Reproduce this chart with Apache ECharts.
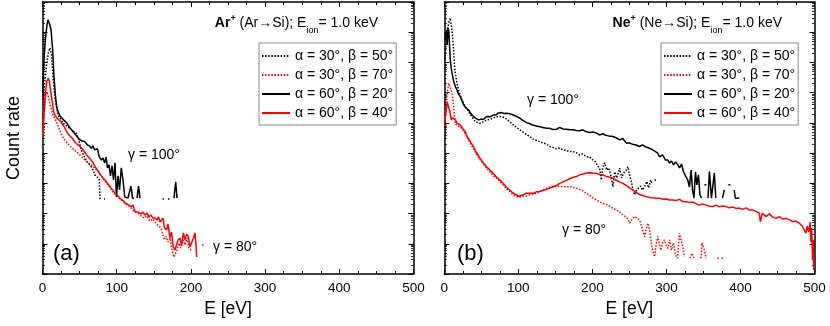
<!DOCTYPE html>
<html><head><meta charset="utf-8">
<script src="https://cdn.jsdelivr.net/npm/echarts@6/dist/echarts.min.js"></script>
<style>html,body{margin:0;padding:0;background:#fff}#c{width:830px;height:326px}</style>
</head><body><div id="c"></div>
<script>
// Legend / series names
const seriesNames = ['α = 30°, β = 50°', 'α = 30°, β = 70°', 'α = 60°, β = 20°', 'α = 60°, β = 40°'];
const xTicks = [0, 100, 200, 300, 400, 500];

// Values are [E (eV), log10(count rate)]; null = no counts (gap)
// ---- Panel (a): Ar+ (Ar->Si) ----
const arA30B50 = [[0.7,5.76],[3.0,6.32],[5.4,6.92],[8.1,7.35],[10.1,7.48],[12.1,7.25],[14.2,6.53],[15.8,6.09],[17.3,5.76],[19.1,5.50],[20.9,5.26],[24.3,5.13],[27.6,4.99],[32.3,4.90],[36.7,4.82],[39.8,4.76],[43.4,4.70],[46.5,4.62],[49.2,4.40],[52.3,4.10],[55.9,3.91],[58.6,3.77],[61.3,3.67],[64.0,3.61],[68.1,3.44],[70.5,3.28],[72.5,3.22],[74.8,3.18],[76.5,3.11],[77.5,2.48],[79.5,2.48],[81,null],[82.9,2.48],[84.2,2.48],[120,null],[161.7,2.48],[165.1,2.48],[167,null],[169.1,2.48],[171.8,2.48]];
const arA30B70 = [[0.4,4.54],[2.7,5.43],[4.0,5.83],[5.4,6.03],[6.7,6.03],[8.1,5.86],[10.1,5.60],[12.1,5.43],[14.2,5.26],[16.8,5.20],[18.9,5.03],[21.3,4.88],[23.6,4.74],[25.9,4.60],[29.0,4.47],[33.0,4.34],[37.1,4.24],[41.1,4.14],[45.1,4.06],[49.2,3.97],[53.2,3.87],[57.3,3.77],[61.3,3.69],[65.4,3.61],[69.4,3.53],[73.5,3.44],[77.5,3.30],[81.5,3.17],[85.6,3.04],[88.3,2.95],[92.3,2.81],[96.4,2.68],[100.4,2.58],[104.4,2.48],[108.5,2.42],[112.5,2.32],[116.6,2.25],[120.6,2.15],[124.7,2.05],[128.7,2.02],[132.7,1.92],[136.8,1.85],[140.8,1.92],[144.9,1.75],[148.9,1.82],[153.0,1.66],[157.0,1.59],[159.7,1.52],[162.4,1.29],[164.4,1.13],[166.4,1.26],[169.1,1.06],[171.8,1.19],[174.5,0.79],[177.2,0.56],[179.2,0.56],[181.3,0.79],[183.4,1.02],[186.2,0.86],[189.4,1.13],[192.0,0.96],[194.7,1.19],[197.4,0.86],[200.1,0.79],[207,null],[215,0.96],[217.7,0.96]];
const arA60B20 = [[0.5,6.0],[2.0,7.09],[3.8,7.75],[6.1,8.25],[7.4,8.41],[9.4,8.28],[11.5,8.08],[13.7,7.42],[15.5,6.52],[17.3,5.93],[19.1,5.53],[21.6,5.33],[24.5,5.20],[28.3,5.10],[32.6,5.00],[37.1,4.83],[41.5,4.70],[45.8,4.57],[50.5,4.44],[53.9,4.40],[56.9,4.38],[60.6,4.27],[63.3,4.24],[65.8,4.16],[68.1,4.24],[70.1,4.11],[72.5,4.05],[74.1,4.14],[76.1,3.91],[79.2,3.77],[81.5,3.84],[83.8,3.67],[85.6,3.87],[87.6,3.51],[89.6,3.61],[91.6,3.25],[93.7,3.58],[95.7,3.11],[97.7,3.68],[99.7,2.55],[101.8,3.25],[103.8,2.78],[106.2,3.51],[108.5,3.11],[110.8,2.55],[113.2,2.51],[115.2,2.51],[117.3,2.51],[119.3,2.91],[121.3,2.51],[123.3,2.51],[125.5,null],[127.4,2.51],[129.4,2.91],[131.4,2.51],[150,null],[177.2,2.51],[179.5,3.05],[181.3,2.51]];
const arA60B40 = [[0.3,4.55],[3.4,5.86],[5.7,6.37],[7.8,6.48],[9.4,6.36],[10.8,6.09],[12.1,5.86],[13.5,5.66],[14.6,5.43],[15.9,5.30],[16.8,5.26],[20.2,5.13],[23.6,5.07],[25.9,5.04],[29.0,4.88],[32.6,4.71],[35.7,4.60],[39.8,4.50],[43.8,4.37],[47.8,4.27],[50.5,4.22],[54.6,4.11],[58.6,3.97],[61.7,3.88],[65.4,3.77],[68.1,3.68],[70.8,3.55],[74.8,3.41],[77.5,3.31],[81.5,3.18],[84.2,3.11],[88.3,2.98],[92.3,2.85],[95.7,2.75],[97.7,2.67],[101.8,2.58],[105.8,2.48],[109.2,2.42],[111.2,2.35],[115.2,2.30],[119.3,2.22],[122.0,2.28],[124.7,2.06],[128.7,2.05],[132.7,1.99],[135.4,2.05],[138.1,1.95],[140.8,2.02],[143.5,1.89],[146.2,1.95],[148.9,1.85],[151.6,1.85],[154.4,1.79],[156.3,1.89],[158.4,1.72],[160.6,1.69],[162.4,1.85],[164.4,1.52],[167.4,1.46],[169.1,1.66],[171.8,1.19],[173.9,1.39],[176.2,0.90],[178.6,0.79],[180.9,0.79],[182.6,1.13],[185.3,1.19],[187.3,0.93],[189.8,1.36],[192.0,1.13],[194.1,1.32],[196.5,1.24],[198.8,0.90],[201.1,0.90],[203.5,1.19],[205.5,1.36],[206.9,0.96],[207.8,0.56]];

// ---- Panel (b): Ne+ (Ne->Si) ----
const neA30B50 = [[0.7,7.09],[2.3,7.58],[4.3,8.08],[5.9,8.30],[8.1,8.47],[9.3,8.25],[10.4,8.08],[11.7,7.68],[12.7,7.32],[13.7,6.92],[14.8,6.66],[17.1,6.32],[19.8,6.03],[23.9,5.76],[27.9,5.56],[32.9,5.37],[37.3,5.20],[41.8,5.04],[45.4,5.00],[48.5,4.99],[52.6,5.04],[57.5,5.10],[61.6,5.12],[66.0,5.16],[70.4,5.20],[73.7,5.21],[77.4,5.21],[81.8,5.17],[85.2,5.10],[88.5,5.04],[92.6,4.95],[97.3,4.85],[102.0,4.77],[106.1,4.70],[110.8,4.62],[115.5,4.55],[119.5,4.47],[124.3,4.42],[129.0,4.38],[133.0,4.34],[137.7,4.30],[142.5,4.22],[146.5,4.19],[151.5,4.14],[155.9,4.16],[160.0,4.11],[164.7,4.09],[169.4,4.05],[173.9,4.05],[178.4,4.01],[182.9,3.94],[186.9,3.97],[191.9,3.88],[196.4,3.87],[200.8,3.77],[204.4,3.71],[207.1,3.58],[209.8,3.50],[212.1,3.11],[213.9,3.51],[216.6,3.68],[219.3,3.44],[222.0,3.51],[224.7,3.28],[227.8,2.89],[230.1,3.38],[232.8,3.18],[236.8,3.50],[239.5,3.18],[242.2,3.34],[245.8,3.44],[248.0,3.55],[250.3,3.28],[252.6,3.06],[255.0,2.78],[257.0,2.62],[259.7,2.78],[262.4,2.72],[265.1,2.91],[267.8,2.78],[270.5,2.89],[273.6,3.06],[275.9,2.85],[278.6,3.11],[281.3,2.98],[282.7,null],[284.0,3.11],[286.0,3.11]];
const neA30B70 = [[0.5,4.93],[2.3,5.43],[3.6,5.93],[5.0,6.16],[5.9,6.31],[7.0,6.26],[8.1,6.16],[9.4,6.09],[11.1,5.86],[12.7,5.54],[13.7,5.23],[14.8,4.99],[17.1,4.90],[19.4,4.88],[21.2,4.88],[23.9,4.82],[26.5,4.72],[29.2,4.60],[31.9,4.47],[34.6,4.35],[39.1,4.16],[43.4,3.97],[48.1,3.79],[52.6,3.64],[57.1,3.50],[61.6,3.38],[66.0,3.26],[70.4,3.16],[75.1,3.06],[79.5,2.95],[83.8,2.83],[88.5,2.73],[92.6,2.63],[97.6,2.56],[102.0,2.55],[106.5,2.57],[110.8,2.58],[115.5,2.62],[119.9,2.65],[124.5,2.67],[129.0,2.73],[133.4,2.78],[138.0,2.84],[142.5,2.88],[146.9,2.90],[151.5,2.91],[155.9,2.90],[160.4,2.89],[165.0,2.89],[169.4,2.89],[173.9,2.87],[178.4,2.84],[182.9,2.80],[187.3,2.75],[191.9,2.67],[196.4,2.60],[200.8,2.52],[205.4,2.45],[209.8,2.39],[214.3,2.33],[218.9,2.30],[223.3,2.24],[227.8,2.18],[232.3,2.12],[236.8,2.05],[241.2,1.95],[244.9,1.89],[247.6,1.82],[250.3,1.68],[253.0,1.79],[257.0,1.90],[260.4,1.85],[263.7,1.79],[266.4,1.59],[270.5,1.24],[272.5,1.46],[274.9,1.68],[277.2,1.46],[279.5,1.02],[281.3,0.79],[284.0,0.57],[286.0,0.96],[288.4,1.24],[290.7,0.96],[292.7,0.79],[294.7,1.03],[297.4,1.13],[299.5,0.96],[301.9,0.85],[304.2,1.13],[306.9,0.79],[309.6,1.03],[312.3,0.63],[315.0,0.52],[317.7,1.35],[319.7,1.13],[322.1,0.90],[324.4,0.57],[328,null],[331.8,0.52],[334.5,0.69],[337.2,0.52],[342,null],[346.6,0.52],[348.0,1.03],[349.3,1.07],[351.3,0.79],[353.6,0.52],[360,null],[368.9,0.52],[371.6,0.52],[373,null],[374.3,0.52],[377.0,0.52]];
const neA60B20 = [[0.9,7.75],[3.0,8.08],[3.9,7.58],[5.0,8.15],[5.9,8.08],[7.0,7.58],[8.1,7.09],[9.3,6.82],[10.4,6.66],[11.7,6.49],[12.7,6.37],[15.1,6.19],[17.1,6.09],[19.1,5.96],[21.6,5.87],[23.9,5.73],[26.1,5.60],[29.2,5.49],[32.9,5.43],[36.0,5.30],[39.6,5.21],[42.7,5.15],[46.4,5.10],[49.5,5.12],[53.1,5.12],[57.1,5.21],[61.6,5.20],[66.0,5.26],[69.7,5.26],[73.0,5.33],[77.4,5.34],[80.5,5.31],[84.1,5.32],[88.5,5.30],[93.0,5.26],[97.3,5.22],[102.0,5.16],[106.1,5.08],[111.1,5.01],[115.5,4.97],[119.5,4.93],[124.5,4.90],[129.0,4.87],[133.0,4.85],[138.0,4.82],[142.5,4.82],[146.5,4.78],[151.5,4.79],[155.9,4.85],[160.0,4.80],[165.0,4.79],[169.4,4.77],[173.9,4.77],[178.4,4.75],[182.9,4.74],[186.9,4.77],[191.9,4.71],[196.4,4.68],[200.4,4.70],[205.1,4.67],[209.8,4.60],[213.9,4.64],[217.9,4.59],[221.9,4.57],[227.8,4.55],[232.7,4.50],[236.8,4.44],[240.8,4.49],[245.8,4.33],[250.3,4.34],[254.3,4.29],[259.0,4.27],[263.7,4.22],[267.8,4.27],[271.8,4.21],[277.2,4.16],[281.3,4.11],[284.0,4.05],[288.0,4.01],[290.7,3.88],[294.7,3.94],[298.8,3.77],[301.9,3.77],[304.2,3.67],[306.9,3.74],[309.6,3.61],[312.3,3.71],[315.4,3.61],[317.7,3.51],[320.4,3.64],[323.1,3.38],[325.8,3.25],[328.8,3.11],[331.1,2.88],[333.4,3.44],[335.2,2.78],[337.2,2.51],[339.2,3.38],[341.2,2.95],[343.2,3.28],[345.3,2.62],[347.3,2.51],[349,null],[351.3,2.95],[354.0,2.95],[355,null],[356.1,2.51],[358.1,3.39],[360.8,2.51],[362.8,2.51],[364.7,3.34],[366.7,2.51],[370,null],[375.6,2.51],[378.3,2.78],[380,null],[383.7,2.95],[386.4,2.95],[389,null],[391.6,2.78],[393.0,2.51],[398.4,2.51]];
const neA60B40 = [[0.3,5.03],[1.6,5.26],[3.0,5.50],[4.0,5.70],[5.0,5.76],[6.1,5.66],[6.7,5.43],[7.7,5.36],[9.4,5.10],[11.1,5.17],[12.7,5.21],[15.1,5.10],[17.1,4.99],[19.1,4.97],[21.6,4.93],[23.9,4.85],[26.1,4.77],[28.6,4.70],[30.6,4.55],[34.6,4.40],[39.1,4.22],[43.4,4.02],[48.1,3.83],[52.6,3.68],[57.1,3.55],[61.6,3.44],[66.0,3.33],[70.4,3.21],[75.1,3.11],[79.5,3.00],[83.8,2.88],[88.5,2.78],[92.6,2.68],[97.6,2.62],[100.7,2.57],[103.4,2.63],[106.5,2.62],[110.1,2.67],[112.8,2.62],[115.5,2.67],[118.2,2.72],[120.9,2.67],[124.3,2.72],[129.0,2.73],[133.0,2.76],[137.7,2.80],[142.5,2.84],[146.5,2.88],[151.5,2.93],[155.9,3.00],[160.4,3.05],[165.0,3.10],[169.4,3.15],[174.1,3.20],[178.8,3.23],[182.9,3.28],[187.6,3.31],[192.3,3.34],[196.4,3.35],[200.4,3.34],[205.4,3.33],[209.8,3.29],[214.3,3.28],[218.6,3.23],[223.3,3.20],[227.8,3.17],[232.1,3.10],[236.8,3.05],[241.2,3.00],[245.6,2.93],[250.3,2.85],[254.7,2.78],[259.0,2.70],[263.7,2.63],[267.8,2.60],[272.8,2.56],[277.2,2.53],[281.3,2.52],[286.0,2.51],[290.7,2.51],[294.7,2.47],[299.5,2.48],[304.2,2.45],[308.6,2.45],[312.9,2.43],[317.7,2.47],[321.7,2.40],[326.7,2.39],[331.1,2.37],[335.2,2.38],[339.9,2.33],[344.5,2.28],[348.7,2.32],[353.4,2.28],[358.1,2.24],[362.5,2.23],[366.8,2.28],[371.6,2.22],[375.6,2.25],[380.6,2.23],[385.0,2.19],[389.5,2.22],[393.8,2.17],[398.5,2.18],[402.6,2.14],[407.3,2.19],[412.0,2.12],[416.4,2.12],[420.8,2.07],[425.5,2.01],[426.8,1.73],[429.5,2.01],[434.5,1.90],[439.0,1.99],[443.0,1.89],[448.0,1.84],[452.4,1.90],[456.5,1.82],[461.5,1.84],[465.9,1.80],[470.4,1.73],[474.7,1.75],[479.4,1.68],[483.4,1.59],[486.1,1.46],[488.4,1.35],[490.2,1.59],[492.2,1.39],[494.2,1.72],[495.1,1.07],[496.2,1.52],[497.3,0.46],[498.2,1.13],[499.0,0.13]];

const FONT = '"Liberation Sans", Arial, Helvetica, sans-serif';
const BLACK = '#000000', RED = '#ff0000';
const DOT = [1.5, 1.6];

function toData(pairs) { return pairs.map(p => [p[0], p[1] == null ? '-' : Math.pow(10, p[1])]); }

function xAx(grid, pos) {
  return {
    type: 'value', gridIndex: grid, position: pos, min: xTicks[0], max: xTicks[xTicks.length - 1], interval: 100,
    axisLine: { show: true, onZero: false, lineStyle: { color: BLACK, width: 1.5 } },
    axisTick: { show: true, inside: true, length: 5, lineStyle: { color: BLACK, width: 1 } },
    minorTick: { show: true, splitNumber: 4, length: 3, lineStyle: { color: BLACK, width: 1 } },
    axisLabel: { show: pos === 'bottom', color: BLACK, fontSize: 13.5, fontFamily: FONT, margin: 7 },
    splitLine: { show: false }, minorSplitLine: { show: false },
    name: pos === 'bottom' ? 'E [eV]' : '', nameLocation: 'middle', nameGap: 22,
    nameTextStyle: { color: BLACK, fontSize: 17.5, fontFamily: FONT }
  };
}
function yAx(grid, pos, name) {
  return {
    type: 'log', logBase: 10, gridIndex: grid, position: pos, min: 1, max: 1e9,
    axisLine: { show: true, onZero: false, lineStyle: { color: BLACK, width: 1.5 } },
    axisTick: { show: true, inside: true, length: 5, lineStyle: { color: BLACK, width: 1 } },
    minorTick: { show: true, splitNumber: 9, length: 2.5, lineStyle: { color: BLACK, width: 0.8 } },
    axisLabel: { show: false }, splitLine: { show: false }, minorSplitLine: { show: false },
    name: name || '', nameLocation: 'middle', nameGap: 19,
    nameTextStyle: { color: BLACK, fontSize: 18, fontFamily: FONT }
  };
}
function ser(name, pairs, panel, color, dotted) {
  return {
    name, type: 'line', xAxisIndex: panel * 2, yAxisIndex: panel * 2, data: toData(pairs),
    symbol: 'none', showSymbol: false, connectNulls: false, animation: false,
    lineStyle: { color, width: 1.5, type: dotted ? DOT : 'solid' }, itemStyle: { color },
    emphasis: { disabled: true }
  };
}
function legendFor(left) {
  return {
    data: seriesNames, orient: 'vertical', left, top: 43, itemWidth: 28, itemHeight: 12, itemGap: 5,
    padding: [6, 3, 5, 2], borderColor: '#888', borderWidth: 1, selectedMode: false, backgroundColor: '#fff',
    itemStyle: { opacity: 0, borderWidth: 0 },
    textStyle: { color: BLACK, fontSize: 14, lineHeight: 13, fontFamily: FONT }
  };
}
function txt(x, y, text, size, align, rich) {
  const st = { text, x: 0, y: 0, fill: BLACK, fontSize: size, fontFamily: FONT, align: align || 'left', verticalAlign: 'middle', textAlign: align || 'left', textVerticalAlign: 'middle' };
  if (rich) st.rich = rich;
  return { type: 'text', x, y, z: 100, style: st };
}
const titleRich = {
  b: { fontSize: 14, fontWeight: 'bold', fontFamily: FONT, lineHeight: 18, verticalAlign: 'middle' },
  sup: { fontSize: 9, fontWeight: 'bold', fontFamily: FONT, lineHeight: 18, verticalAlign: 'top' },
  n: { fontSize: 14, fontFamily: FONT, lineHeight: 18, verticalAlign: 'middle' },
  sub: { fontSize: 9, fontFamily: FONT, lineHeight: 18, verticalAlign: 'bottom', padding: [0, 0, -3, 0] }
};

const chart = echarts.init(document.getElementById('c'), null, { renderer: 'canvas' });
chart.setOption({
  animation: false,
  backgroundColor: '#ffffff',
  grid: [
    { left: 42.5, right: 416.5, top: 2, bottom: 52, containLabel: false, outerBoundsMode: 'none' },
    { left: 444.3, right: 15.5, top: 2, bottom: 52, containLabel: false, outerBoundsMode: 'none' }
  ],
  xAxis: [xAx(0, 'bottom'), xAx(0, 'top'), xAx(1, 'bottom'), xAx(1, 'top')],
  yAxis: [yAx(0, 'left', 'Count rate'), yAx(0, 'right'), yAx(1, 'left'), yAx(1, 'right')],
  legend: [legendFor(259), legendFor(661)],
  series: [
    ser(seriesNames[0], arA30B50, 0, BLACK, true),
    ser(seriesNames[1], arA30B70, 0, RED, true),
    ser(seriesNames[2], arA60B20, 0, BLACK, false),
    ser(seriesNames[3], arA60B40, 0, RED, false),
    ser(seriesNames[0], neA30B50, 1, BLACK, true),
    ser(seriesNames[1], neA30B70, 1, RED, true),
    ser(seriesNames[2], neA60B20, 1, BLACK, false),
    ser(seriesNames[3], neA60B40, 1, RED, false)
  ],
  graphic: [
    txt(378, 23, '{b|Ar}{sup|+}{n| (Ar→Si); E}{sub|ion}{n|= 1.0 keV}', 14, 'right', titleRich),
    txt(782, 23, '{b|Ne}{sup|+}{n| (Ne→Si); E}{sub|ion}{n|= 1.0 keV}', 14, 'right', titleRich),
    txt(128, 155, 'γ = 100°', 14),
    txt(213, 247, 'γ = 80°', 14),
    txt(527, 100, 'γ = 100°', 14),
    txt(562, 230, 'γ = 80°', 14),
    txt(53, 254, '(a)', 22),
    txt(457, 254, '(b)', 22)
  ]
});
</script>
</body></html>
